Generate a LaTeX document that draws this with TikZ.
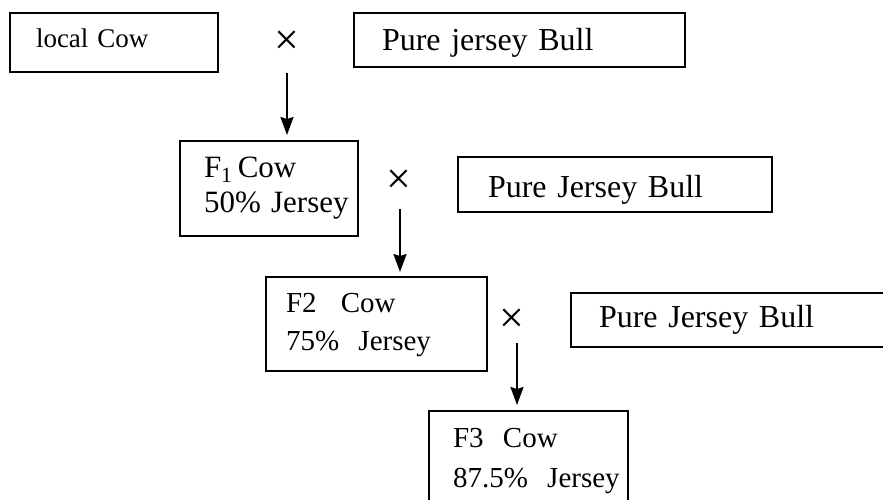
\documentclass[tikz,border=0pt]{standalone}
\usepackage{fontspec}
\setmainfont{Liberation Serif}
\usetikzlibrary{arrows.meta}
\usetikzlibrary{positioning}
\usetikzlibrary{calc}

\begin{document}
\begin{tikzpicture}[
  x=1pt, y=-1pt,
  cowbox/.style n args={5}{draw, line width=2.4pt, anchor=north west, outer sep=0pt,
    align=left, inner sep=0pt, text width=#1, minimum height=#2,
    execute at begin node={\leftskip=#3\relax},
    text height=#4, text depth=#5},
  crossmark/.style={inner sep=0pt, font=\fontsize{44}{44}\selectfont},
  breed/.style={-{Stealth[length=18pt,width=13pt,inset=2pt]}, line width=2pt},
  bullfont/.style={font=\fontsize{32}{35}\selectfont},
]
  \useasboundingbox (0,0) rectangle (883,499);

  \node[cowbox={208pt}{59pt}{26pt}{9pt}{0pt}, font=\fontsize{27}{30}\selectfont] (local) at (10,13) {local Cow};
  \node[crossmark] (x1) at (287,43) {×};
  \node[cowbox={331pt}{54pt}{28pt}{20pt}{0pt}, bullfont] (bull1) at (354,13) {Pure jersey Bull};

  \node[cowbox={178pt}{95pt}{24pt}{0pt}{23pt}, font=\fontsize{31}{35}\selectfont] (f1) at (180,141)
    {F\textsubscript{1}\,Cow\\50\% Jersey};
  \node[crossmark] (x2) at (399,182) {×};
  \node[cowbox={314pt}{55pt}{30pt}{25pt}{0pt}, bullfont] (bull2) at (458,157) {Pure Jersey Bull};

  \node[cowbox={221pt}{94pt}{20pt}{0pt}{24pt}, font=\fontsize{29}{38}\selectfont] (f2) at (266,277)
    {F2~~\,Cow\\75\%~~Jersey};
  \node[crossmark] (x3) at (512,321) {×};
  \node[cowbox={330pt}{54pt}{28pt}{14pt}{0pt}, bullfont] (bull3) at (571,293) {Pure Jersey Bull};

  \node[cowbox={199pt}{99pt}{24pt}{0pt}{27pt}, font=\fontsize{29}{40}\selectfont] (f3) at (429,411)
    {F3~~Cow\\87.5\%~~Jersey};

  \draw[breed, shorten <=30pt, shorten >=6pt] (x1.center) -- (x1.center |- f1.north);
  \draw[breed, shorten <=27pt, shorten >=5pt] ([xshift=1pt]x2.center) -- ([xshift=1pt]x2.center |- f2.north);
  \draw[breed, shorten <=22pt, shorten >=6pt] ([xshift=5pt]x3.center) -- ([xshift=5pt]x3.center |- f3.north);
\end{tikzpicture}
\end{document}
